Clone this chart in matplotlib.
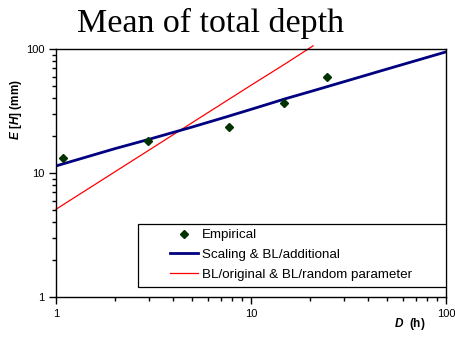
import matplotlib
matplotlib.use('Agg')
import matplotlib.pyplot as plt
from matplotlib.patches import Rectangle
from matplotlib.ticker import LogLocator, NullFormatter, FixedLocator, FixedFormatter

plt.rcParams['font.family'] = 'Liberation Sans'
plt.rcParams['mathtext.fontset'] = 'custom'
plt.rcParams['mathtext.bfit'] = 'Liberation Sans:italic:bold'
plt.rcParams['mathtext.rm'] = 'Liberation Sans'

# Empirical points
emp_d = [1.09, 2.95, 7.7, 14.8, 24.5]
emp_h = [13.3, 18.1, 23.4, 36.5, 59.5]

# Scaling & BL/additional
scal_d = [1, 2, 3, 5, 7.5, 10, 12, 15, 20, 25, 50, 100]
scal_h = [11.4, 15.7, 18.7, 23.5, 28.4, 32.6, 35.6, 39.7, 45.2, 50.1, 69.0, 94.8]

# BL/original & BL/random parameter
bl_d = [1, 2, 5, 10, 15, 20.8]
bl_h = [5.1, 10.2, 25.5, 51, 76, 106]

fig = plt.figure(figsize=(4.56, 3.38), dpi=100)
ax = fig.add_axes([56 / 456, 1 - 297 / 338, 390 / 456, 248 / 338])

ax.plot(bl_d, bl_h, color='#ff0000', lw=0.9, clip_on=False,
        label='BL/original & BL/random parameter')
ax.plot(scal_d, scal_h, color='#000080', lw=2.0,
        label='Scaling & BL/additional')
ax.plot(emp_d, emp_h, linestyle='none', marker='D', ms=4.2,
        color='#003300', label='Empirical')

ax.set_xscale('log')
ax.set_yscale('log')
ax.set_xlim(1, 100)
ax.set_ylim(1, 100)

for a in (ax.xaxis, ax.yaxis):
    a.set_major_locator(FixedLocator([1, 10, 100]))
    a.set_major_formatter(FixedFormatter(['1', '10', '100']))
    a.set_minor_locator(LogLocator(base=10, subs=range(2, 10)))
    a.set_minor_formatter(NullFormatter())
ax.tick_params(which='major', direction='out', length=5, width=1, labelsize=8)
ax.tick_params(which='minor', direction='out', length=3, width=1)
for s in ax.spines.values():
    s.set_linewidth(1)
    s.set_color('black')

# legend box
ax.add_patch(Rectangle((82 / 390, 10 / 248), 308 / 390, 63 / 248,
                       transform=ax.transAxes, facecolor='white',
                       edgecolor='black', lw=0.9, zorder=4))

handles, labels = ax.get_legend_handles_labels()
order = [2, 1, 0]
leg = ax.legend([handles[i] for i in order], [labels[i] for i in order],
                loc='upper left', bbox_to_anchor=(170 / 456, 1 - 229 / 338),
                bbox_transform=fig.transFigure, borderaxespad=0, borderpad=0,
                fontsize=9.6, frameon=False, handlelength=2.1,
                handletextpad=0.3, labelspacing=0.56)
leg.set_zorder(5)

fig.text(211 / 456, 1 - 23 / 338, 'Mean of total depth', family='Liberation Serif',
         fontsize=24.5, ha='center', va='center')
fig.text(16 / 456, 1 - 110 / 338, r'$\mathbfit{E}$ [$\mathbfit{H}$] (mm)',
         rotation=90, fontsize=8.5, fontweight='bold', ha='center', va='center')
fig.text(410 / 456, 1 - 324 / 338, r'$\mathbfit{D}$  (h)', fontsize=8.5,
         fontweight='bold', ha='center', va='center')

fig.savefig('out.png', dpi=100)
